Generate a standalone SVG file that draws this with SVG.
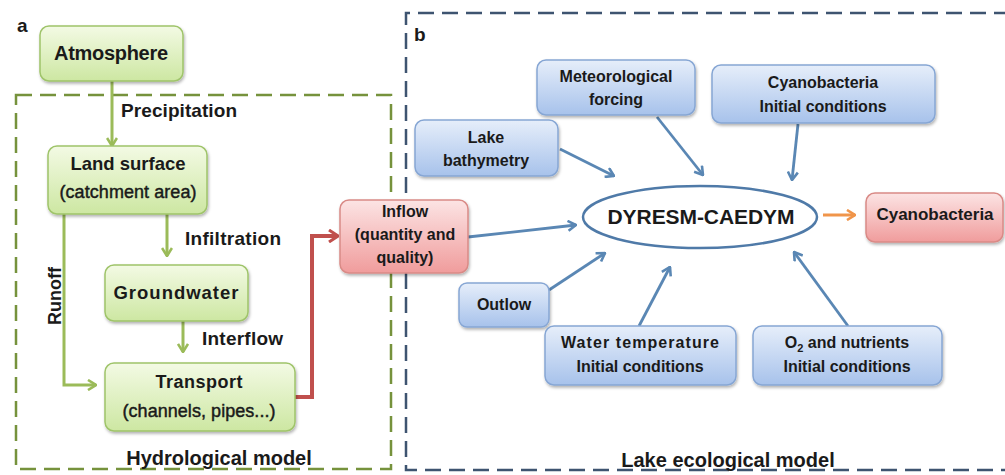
<svg xmlns="http://www.w3.org/2000/svg" width="1005" height="475" viewBox="0 0 1005 475">
<defs>
<style>
text{font-family:"Liberation Sans",Arial,sans-serif;fill:#1a1a1a}
.b{font-weight:bold}
.c{text-anchor:middle}
.sb{stroke:#1a1a1a;stroke-width:0.45}
.gbox{fill:url(#gG);stroke:#9fc46a;stroke-width:1.5;filter:url(#sh)}
.bbox{fill:url(#gB);stroke:#86a6d4;stroke-width:1.5;filter:url(#sh)}
.rbox{fill:url(#gR);stroke:#d98a86;stroke-width:1.5;filter:url(#sh)}
.ga{fill:none;stroke:#9bbb59;stroke-width:3;marker-end:url(#mG)}
.ba{fill:none;stroke:#5a87b4;stroke-width:2.8;marker-end:url(#mB)}
.ra{fill:none;stroke:#c0504d;stroke-width:4;marker-end:url(#mR)}
.oa{fill:none;stroke:#f0954a;stroke-width:3;marker-end:url(#mO)}
</style>
<linearGradient id="gG" x1="0" y1="0" x2="0" y2="1"><stop offset="0" stop-color="#f3fae4"/><stop offset="1" stop-color="#cde7a2"/></linearGradient>
<linearGradient id="gB" x1="0" y1="0" x2="0" y2="1"><stop offset="0" stop-color="#e6eefa"/><stop offset="1" stop-color="#a7c2eb"/></linearGradient>
<linearGradient id="gR" x1="0" y1="0" x2="0" y2="1"><stop offset="0" stop-color="#fce4e4"/><stop offset="1" stop-color="#f09c9c"/></linearGradient>
<filter id="sh" x="-10%" y="-10%" width="125%" height="135%"><feDropShadow dx="1" dy="2" stdDeviation="1.5" flood-color="#000" flood-opacity="0.3"/></filter>
<marker id="mG" viewBox="0 0 10 12" refX="9" refY="6" markerWidth="10" markerHeight="12" markerUnits="userSpaceOnUse" orient="auto"><path d="M1,1 L9,6 L1,11" fill="none" stroke="#9bbb59" stroke-width="2.6"/></marker>
<marker id="mB" viewBox="0 0 10 12" refX="9" refY="6" markerWidth="10" markerHeight="12" markerUnits="userSpaceOnUse" orient="auto"><path d="M1,1 L9,6 L1,11" fill="none" stroke="#5a87b4" stroke-width="2.6"/></marker>
<marker id="mR" viewBox="0 0 11 14" refX="10" refY="7" markerWidth="11" markerHeight="14" markerUnits="userSpaceOnUse" orient="auto"><path d="M1,1 L10,7 L1,13" fill="none" stroke="#c0504d" stroke-width="3"/></marker>
<marker id="mO" viewBox="0 0 10 12" refX="9" refY="6" markerWidth="10" markerHeight="12" markerUnits="userSpaceOnUse" orient="auto"><path d="M1,1 L9,6 L1,11" fill="none" stroke="#f0954a" stroke-width="2.6"/></marker>
</defs>
<rect width="1005" height="475" fill="#ffffff"/>

<!-- panel frames -->
<g id="frames">
<rect x="16" y="95" width="375" height="374" fill="none" stroke="#76923c" stroke-width="2.5" stroke-dasharray="16 8"/>
<path d="M1010,13 H406 V470 H1010" fill="none" stroke="#3e5470" stroke-width="2.5" stroke-dasharray="16 8"/>
<text x="17" y="32" class="b" font-size="19">a</text>
<text x="414" y="41" class="b" font-size="19">b</text>
<text x="219" y="465" class="b c" font-size="20">Hydrological model</text>
<text x="728" y="467" class="b c" font-size="20">Lake ecological model</text>
</g>

<!-- connectors -->
<g id="connectors">
<line class="ga" x1="112" y1="81" x2="112" y2="146"/>
<line class="ga" x1="167" y1="214" x2="167" y2="256"/>
<line class="ga" x1="183" y1="321" x2="183" y2="352"/>
<polyline class="ga" points="64,214 64,385 96,385"/>
<polyline class="ra" points="295,397 312,397 312,236 338,236"/>
<line class="ba" x1="468" y1="237" x2="576" y2="225"/>
<line class="ba" x1="560" y1="149" x2="614" y2="176"/>
<line class="ba" x1="657" y1="117" x2="703" y2="175"/>
<line class="ba" x1="798" y1="124" x2="792" y2="180"/>
<line class="ba" x1="549" y1="290" x2="605" y2="253"/>
<line class="ba" x1="639" y1="326" x2="670" y2="267"/>
<line class="ba" x1="848" y1="326" x2="794" y2="252"/>
<line class="oa" x1="823" y1="215" x2="855" y2="215"/>
<text x="121" y="117" class="b" font-size="19" textLength="116">Precipitation</text>
<text x="185" y="245" class="b" font-size="19" textLength="96">Infiltration</text>
<text x="202" y="345" class="b" font-size="19" textLength="81">Interflow</text>
<text transform="translate(61,296) rotate(-90)" class="b c" font-size="18" textLength="58">Runoff</text>
</g>

<!-- hydrological nodes -->
<g id="atmosphere">
<rect class="gbox" x="40" y="26" width="143" height="55" rx="9"/>
<text x="111" y="60" class="b c" font-size="20" textLength="114">Atmosphere</text>
</g>
<g id="land-surface">
<rect class="gbox" x="48" y="146" width="159" height="68" rx="9"/>
<text x="128" y="170" class="b c" font-size="18.5" textLength="115">Land surface</text>
<text x="128" y="198" class="c sb" font-size="18" textLength="137">(catchment area)</text>
</g>
<g id="groundwater">
<rect class="gbox" x="105" y="265" width="143" height="56" rx="9"/>
<text x="176" y="299" class="b c" font-size="18.5" textLength="125">Groundwater</text>
</g>
<g id="transport">
<rect class="gbox" x="105" y="363" width="190" height="68" rx="9"/>
<text x="199" y="388" class="b c" font-size="18" textLength="87">Transport</text>
<text x="199" y="417" class="c sb" font-size="18" textLength="153">(channels, pipes...)</text>
</g>
<g id="inflow">
<rect class="rbox" x="340" y="200" width="128" height="73" rx="9"/>
<text x="405" y="217" class="b c" font-size="16">Inflow</text>
<text x="405" y="240" class="b c" font-size="16">(quantity and</text>
<text x="405" y="263" class="b c" font-size="16">quality)</text>
</g>

<!-- lake model nodes -->
<g id="dyresm">
<ellipse cx="700" cy="217" rx="117" ry="31" fill="#ffffff" stroke="#4f7aa8" stroke-width="2.5"/>
<text x="701" y="224" class="b c" font-size="21" textLength="187">DYRESM-CAEDYM</text>
</g>
<g id="cyanobacteria">
<rect class="rbox" x="866" y="193" width="137" height="49" rx="9"/>
<text x="935" y="220" class="b c" font-size="17">Cyanobacteria</text>
</g>
<g id="meteorological">
<rect class="bbox" x="537" y="60" width="158" height="55" rx="9"/>
<text x="616" y="82" class="b c" font-size="16">Meteorological</text>
<text x="616" y="105" class="b c" font-size="16">forcing</text>
</g>
<g id="cyano-initial">
<rect class="bbox" x="712" y="65" width="223" height="58" rx="9"/>
<text x="823" y="88" class="b c" font-size="16">Cyanobacteria</text>
<text x="823" y="112" class="b c" font-size="16">Initial conditions</text>
</g>
<g id="bathymetry">
<rect class="bbox" x="415" y="120" width="143" height="56" rx="9"/>
<text x="486" y="143" class="b c" font-size="16">Lake</text>
<text x="486" y="166" class="b c" font-size="16">bathymetry</text>
</g>
<g id="outlow">
<rect class="bbox" x="459" y="283" width="90" height="44" rx="8"/>
<text x="504" y="310" class="b c" font-size="16">Outlow</text>
</g>
<g id="water-temperature">
<rect class="bbox" x="545" y="326" width="191" height="59" rx="9"/>
<text x="640" y="348" class="b c" font-size="16" textLength="158">Water temperature</text>
<text x="640" y="372" class="b c" font-size="16">Initial conditions</text>
</g>
<g id="o2-nutrients">
<rect class="bbox" x="753" y="326" width="189" height="59" rx="9"/>
<text x="847" y="348" class="b c" font-size="16">O<tspan font-size="11" dy="4">2</tspan><tspan dy="-4"> and nutrients</tspan></text>
<text x="847" y="372" class="b c" font-size="16">Initial conditions</text>
</g>
</svg>
